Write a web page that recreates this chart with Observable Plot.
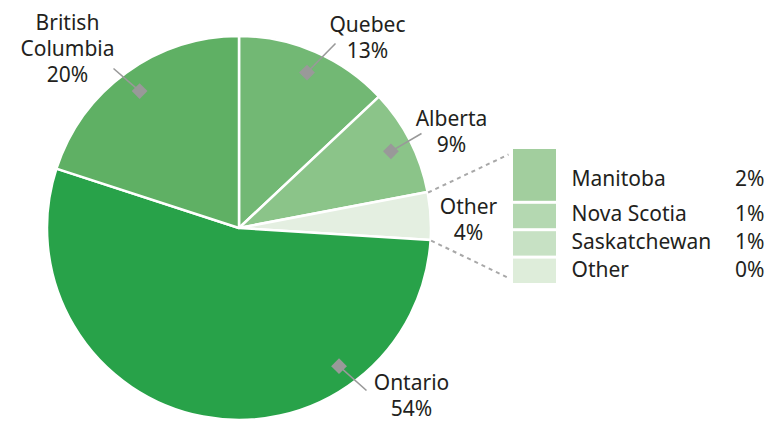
<!DOCTYPE html>
<html><head><meta charset="utf-8">
<script src="https://cdn.jsdelivr.net/npm/d3@7"></script>
<script src="https://cdn.jsdelivr.net/npm/@observablehq/plot@0.6"></script>
<style>body{margin:0;background:#fff;} svg{display:block;}</style>
</head><body><div id="chart"></div>
<script>
// ---- data ----
const provinces = ["Quebec", "Alberta", "Other", "Ontario", "British Columbia"];
const shares = [13, 9, 4, 54, 20];
const pieLabels = ["Quebec\n13%", "Alberta\n9%", "Other\n4%", "Ontario\n54%", "British\nColumbia\n20%"];
const otherCategories = ["Manitoba", "Nova Scotia", "Saskatchewan", "Other"];
const otherSizes = [2, 1, 1, 1];
const otherLabels = ["2%", "1%", "1%", "0%"];

// ---- layout / style ----
const W = 774, H = 424;
const cx = 239, cy = 228, R = 192;
const pieColors = ["#72b874", "#8bc489", "#e4efe1", "#28a249", "#5fb064"];
const barColors = ["#a2ce9e", "#b4d8b1", "#c7e1c4", "#deedda"];
const labelPos = [[367, 36], [451, 130], [468, 218], [411, 394], [67, 47]];
const leaderEnd = [[335, 43], [421, 133], null, [366, 390], [113, 68]];
const anchorFrac = [0.5, 0.5, null, 0.26, 0.5];
const legendShift = [4, -2, -2, -1];
const diamondR = 0.885;
const barX1 = 513, barX2 = 556, barTop = 149, barBottom = 283, gap = 3;
const textColor = "#231f20";
const font = "Noto Sans";
const fs = 21;

const arcs = d3.pie().sort(null).value(d => d)(shares);
const pt = (a, r) => [cx + r * Math.sin(a), cy - r * Math.cos(a)];

const pieData = arcs.map((a, i) => ({
  i, name: provinces[i], label: pieLabels[i],
  lx: labelPos[i][0], ly: labelPos[i][1],
  anchor: anchorFrac[i] == null ? null : pt(a.startAngle + (a.endAngle - a.startAngle) * anchorFrac[i], R * diamondR),
  end: leaderEnd[i]
}));
const anchored = pieData.filter(d => d.anchor);

// stacked bar for "Other"
const total = d3.sum(otherSizes);
const ys = d3.scaleLinear().domain([0, total]).range([barTop, barBottom + gap]);
let cum = 0;
const barData = otherCategories.map((c, i) => {
  const y1 = ys(cum); cum += otherSizes[i]; const y2 = ys(cum) - gap;
  return {c, y1, y2, ty: (y1 + y2) / 2 + legendShift[i], label: otherLabels[i], color: barColors[i]};
});

// dashed connectors from the "Other" slice edges to the bar
const otherArc = arcs[2];
const pA = pt(otherArc.startAngle, R), pB = pt(otherArc.endAngle, R);
const connectors = [
  {x1: pA[0], y1: pA[1], x2: barX1 - 5, y2: barTop + 5},
  {x1: pB[0], y1: pB[1], x2: barX1 - 6, y2: barBottom - 6}
];

function pieMark(index, scales) {
  const g = d3.create("svg:g")
    .attr("transform", `translate(${scales.x(cx)},${scales.y(cy)})`);
  const arc = d3.arc().innerRadius(0).outerRadius(R);
  g.selectAll("path").data(arcs).join("path")
    .attr("d", arc)
    .attr("fill", (d, i) => pieColors[i])
    .attr("stroke", "#fff")
    .attr("stroke-width", 2.5)
    .attr("stroke-linejoin", "round");
  return g.node();
}

const chart = Plot.plot({
  width: W, height: H,
  margin: 0,
  x: {domain: [0, W], range: [0, W], axis: null},
  y: {domain: [0, H], range: [0, H], axis: null},
  style: {fontFamily: font, fontSize: fs + "px", color: textColor, background: "#fff"},
  marks: [
    pieMark,
    Plot.link(connectors, {x1: "x1", y1: "y1", x2: "x2", y2: "y2", stroke: "#a8a8a8", strokeWidth: 2, strokeDasharray: "4,4"}),
    Plot.rect(barData, {x1: barX1, x2: barX2, y1: "y1", y2: "y2", fill: "color"}),
    Plot.link(anchored, {x1: d => d.anchor[0], y1: d => d.anchor[1], x2: d => d.end[0], y2: d => d.end[1], stroke: "#999", strokeWidth: 1.6}),
    Plot.dot(anchored, {x: d => d.anchor[0], y: d => d.anchor[1], symbol: "square", r: 6.3, rotate: 45, fill: "#999", stroke: null}),
    Plot.text(pieData, {x: "lx", y: "ly", text: "label", textAnchor: "middle", lineAnchor: "middle", lineHeight: 1.25, fontSize: fs, fill: textColor}),
    Plot.text(barData, {x: 571, y: "ty", text: "c", textAnchor: "start", fontSize: fs, fill: textColor}),
    Plot.text(barData, {x: 764, y: "ty", text: "label", textAnchor: "end", fontSize: fs, fill: textColor})
  ]
});
document.getElementById("chart").append(chart);
</script>
</body></html>
